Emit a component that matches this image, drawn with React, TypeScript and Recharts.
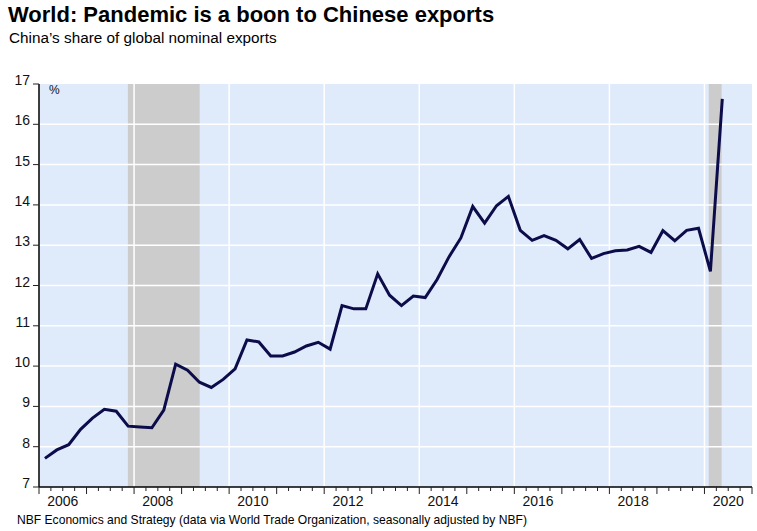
import React from "react";
import {
  LineChart,
  Line,
  XAxis,
  YAxis,
  CartesianGrid,
  ReferenceArea,
  ReferenceLine,
} from "recharts";

// quarterly observations, 2006Q1 .. 2020Q2
const periods = [
  "2006Q1", "2006Q2", "2006Q3", "2006Q4",
  "2007Q1", "2007Q2", "2007Q3", "2007Q4",
  "2008Q1", "2008Q2", "2008Q3", "2008Q4",
  "2009Q1", "2009Q2", "2009Q3", "2009Q4",
  "2010Q1", "2010Q2", "2010Q3", "2010Q4",
  "2011Q1", "2011Q2", "2011Q3", "2011Q4",
  "2012Q1", "2012Q2", "2012Q3", "2012Q4",
  "2013Q1", "2013Q2", "2013Q3", "2013Q4",
  "2014Q1", "2014Q2", "2014Q3", "2014Q4",
  "2015Q1", "2015Q2", "2015Q3", "2015Q4",
  "2016Q1", "2016Q2", "2016Q3", "2016Q4",
  "2017Q1", "2017Q2", "2017Q3", "2017Q4",
  "2018Q1", "2018Q2", "2018Q3", "2018Q4",
  "2019Q1", "2019Q2", "2019Q3", "2019Q4",
  "2020Q1", "2020Q2",
];

const chinaShare = [
  7.71, 7.92, 8.05, 8.43,
  8.71, 8.93, 8.88, 8.51,
  8.49, 8.47, 8.91, 10.05,
  9.9, 9.6, 9.47, 9.67,
  9.93, 10.65, 10.6, 10.25,
  10.25, 10.35, 10.5, 10.59,
  10.42, 11.5, 11.42, 11.42,
  12.29, 11.76, 11.5, 11.74,
  11.7, 12.15, 12.71, 13.18,
  13.96, 13.55, 13.98, 14.21,
  13.37, 13.12, 13.24, 13.12,
  12.91, 13.14, 12.67, 12.79,
  12.86, 12.88, 12.97, 12.82,
  13.36, 13.11, 13.37, 13.42,
  12.35, 16.63,
];

// recession shading (fractional years)
const recessions = [
  [2007.87, 2009.38],
  [2020.09, 2020.36],
];

const yTicks = [7, 8, 9, 10, 11, 12, 13, 14, 15, 16, 17];
const yGridLines = [8, 9, 10, 11, 12, 13, 14, 15, 16];
const xGridYears = [2008, 2010, 2012, 2014, 2016, 2018, 2020];
const firstYear = 2006;
const lastYear = 2021;

const FONT = "'Liberation Sans', Arial, sans-serif";

// plot each quarter at its mid point
const data = periods.map((p, i) => {
  const year = Number(p.slice(0, 4));
  const q = Number(p.slice(5));
  return { t: year + (q - 0.5) / 4, share: chinaShare[i] };
});

const xTicks: number[] = [];
for (let y = firstYear; y < lastYear; y++) {
  for (let q = 0; q < 4; q++) xTicks.push(y + q / 4);
}
xTicks.push(lastYear);

const XTick = (props: any) => {
  const { x, y, payload } = props;
  const v = payload.value;
  const isYear = Math.abs(v - Math.round(v)) < 1e-6;
  const isMid = Math.abs(v - Math.floor(v) - 0.5) < 1e-6;
  return (
    <g>
      <line x1={x} x2={x} y1={y} y2={y + (isYear ? 7 : 4)} stroke="#222" strokeWidth={1} />
      {isMid && Math.floor(v) % 2 === 0 && (
        <text x={x} y={y + 19} textAnchor="middle" fontSize={14} fontFamily={FONT} fill="#111">
          {Math.floor(v)}
        </text>
      )}
    </g>
  );
};

const YTick = (props: any) => {
  const { x, y, payload } = props;
  return (
    <g>
      <line x1={x - 6} x2={x} y1={y} y2={y} stroke="#222" strokeWidth={1} />
      <text x={x - 9} y={y + 1} textAnchor="end" fontSize={14} fontFamily={FONT} fill="#111">
        {payload.value}
      </text>
    </g>
  );
};

export default function App() {
  return (
    <div style={{ position: "absolute", left: 0, top: 0, width: 757, height: 531, background: "#fff", fontFamily: FONT }}>
      <div style={{ position: "absolute", left: 8, top: 2, fontSize: 22, fontWeight: "bold", color: "#000", whiteSpace: "nowrap" }}>
        World: Pandemic is a boon to Chinese exports
      </div>
      <div style={{ position: "absolute", left: 9, top: 29, fontSize: 15.3, color: "#000", whiteSpace: "nowrap" }}>
        China’s share of global nominal exports
      </div>
      <LineChart
        width={757}
        height={531}
        data={data}
        margin={{ top: 84, right: 5, bottom: 14, left: 9 }}
      >
        <CartesianGrid fill="#dfeafb" horizontal={false} vertical={false} stroke="none" />
        {recessions.map(([a, b], i) => (
          <ReferenceArea key={`rec-${i}`} x1={a} x2={b} fill="#cccccc" fillOpacity={1} stroke="none" ifOverflow="hidden" />
        ))}
        {yGridLines.map((v) => (
          <ReferenceLine key={`hy-${v}`} y={v} stroke="#ffffff" strokeWidth={1.5} />
        ))}
        {xGridYears.map((v) => (
          <ReferenceLine key={`vx-${v}`} x={v} stroke="#ffffff" strokeWidth={1.5} />
        ))}
        <XAxis
          dataKey="t"
          type="number"
          domain={[firstYear, lastYear]}
          ticks={xTicks}
          interval={0}
          height={30}
          tickSize={0}
          tickMargin={0}
          tickLine={false}
          axisLine={{ stroke: "#000", strokeWidth: 1.5 }}
          tick={<XTick />}
          allowDataOverflow
        />
        <YAxis
          type="number"
          domain={[7, 17]}
          ticks={yTicks}
          interval={0}
          width={30}
          tickSize={0}
          tickMargin={0}
          tickLine={false}
          axisLine={{ stroke: "#000", strokeWidth: 1.5 }}
          tick={<YTick />}
          allowDataOverflow
        />
        <Line
          type="linear"
          dataKey="share"
          stroke="#0c0c4a"
          strokeWidth={3}
          dot={false}
          isAnimationActive={false}
        />
      </LineChart>
      <div style={{ position: "absolute", left: 49, top: 83, fontSize: 12, color: "#111", whiteSpace: "nowrap" }}>
        %
      </div>
      <div style={{ position: "absolute", left: 17, top: 513, fontSize: 12.1, color: "#000", whiteSpace: "nowrap" }}>
        NBF Economics and Strategy (data via World Trade Organization, seasonally adjusted by NBF)
      </div>
    </div>
  );
}
